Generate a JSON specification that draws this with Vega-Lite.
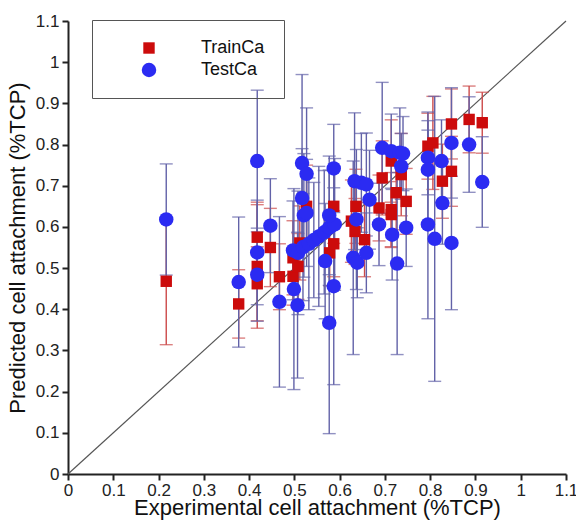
{
  "$schema": "https://vega.github.io/schema/vega-lite/v6.json",
  "width": 498,
  "height": 453,
  "autosize": "none",
  "padding": {"left": 68, "top": 21, "right": 10, "bottom": 47},
  "background": "white",
  "datasets": {
    "diag": [{"x": 0, "y": 0}, {"x": 1.1, "y": 1.1}],
    "pts": [
      {"s": "TrainCa", "x": 0.217, "y": 0.468, "lo": 0.314, "hi": 0.622},
      {"s": "TrainCa", "x": 0.377, "y": 0.413, "lo": 0.330, "hi": 0.496},
      {"s": "TrainCa", "x": 0.418, "y": 0.575, "lo": 0.490, "hi": 0.660},
      {"s": "TrainCa", "x": 0.418, "y": 0.504, "lo": 0.354, "hi": 0.654},
      {"s": "TrainCa", "x": 0.418, "y": 0.462, "lo": 0.372, "hi": 0.552},
      {"s": "TrainCa", "x": 0.447, "y": 0.550, "lo": 0.455, "hi": 0.645},
      {"s": "TrainCa", "x": 0.467, "y": 0.479, "lo": 0.399, "hi": 0.559},
      {"s": "TrainCa", "x": 0.497, "y": 0.480, "lo": 0.410, "hi": 0.550},
      {"s": "TrainCa", "x": 0.497, "y": 0.525, "lo": 0.435, "hi": 0.615},
      {"s": "TrainCa", "x": 0.508, "y": 0.504, "lo": 0.424, "hi": 0.584},
      {"s": "TrainCa", "x": 0.512, "y": 0.561, "lo": 0.471, "hi": 0.651},
      {"s": "TrainCa", "x": 0.527, "y": 0.650, "lo": 0.550, "hi": 0.750},
      {"s": "TrainCa", "x": 0.578, "y": 0.537, "lo": 0.457, "hi": 0.617},
      {"s": "TrainCa", "x": 0.587, "y": 0.650, "lo": 0.560, "hi": 0.740},
      {"s": "TrainCa", "x": 0.587, "y": 0.559, "lo": 0.479, "hi": 0.639},
      {"s": "TrainCa", "x": 0.626, "y": 0.614, "lo": 0.514, "hi": 0.714},
      {"s": "TrainCa", "x": 0.636, "y": 0.650, "lo": 0.560, "hi": 0.740},
      {"s": "TrainCa", "x": 0.634, "y": 0.589, "lo": 0.509, "hi": 0.669},
      {"s": "TrainCa", "x": 0.655, "y": 0.569, "lo": 0.479, "hi": 0.659},
      {"s": "TrainCa", "x": 0.687, "y": 0.646, "lo": 0.566, "hi": 0.726},
      {"s": "TrainCa", "x": 0.694, "y": 0.719, "lo": 0.629, "hi": 0.809},
      {"s": "TrainCa", "x": 0.714, "y": 0.760, "lo": 0.660, "hi": 0.860},
      {"s": "TrainCa", "x": 0.714, "y": 0.642, "lo": 0.552, "hi": 0.732},
      {"s": "TrainCa", "x": 0.714, "y": 0.630, "lo": 0.550, "hi": 0.710},
      {"s": "TrainCa", "x": 0.725, "y": 0.683, "lo": 0.593, "hi": 0.773},
      {"s": "TrainCa", "x": 0.736, "y": 0.727, "lo": 0.627, "hi": 0.827},
      {"s": "TrainCa", "x": 0.747, "y": 0.662, "lo": 0.582, "hi": 0.742},
      {"s": "TrainCa", "x": 0.795, "y": 0.796, "lo": 0.716, "hi": 0.876},
      {"s": "TrainCa", "x": 0.806, "y": 0.804, "lo": 0.691, "hi": 0.917},
      {"s": "TrainCa", "x": 0.827, "y": 0.711, "lo": 0.621, "hi": 0.801},
      {"s": "TrainCa", "x": 0.847, "y": 0.735, "lo": 0.650, "hi": 0.820},
      {"s": "TrainCa", "x": 0.847, "y": 0.850, "lo": 0.765, "hi": 0.935},
      {"s": "TrainCa", "x": 0.886, "y": 0.861, "lo": 0.780, "hi": 0.942},
      {"s": "TrainCa", "x": 0.915, "y": 0.853, "lo": 0.779, "hi": 0.927},
      {"s": "TestCa", "x": 0.217, "y": 0.618, "lo": 0.483, "hi": 0.753},
      {"s": "TestCa", "x": 0.377, "y": 0.466, "lo": 0.308, "hi": 0.624},
      {"s": "TestCa", "x": 0.418, "y": 0.760, "lo": 0.588, "hi": 0.932},
      {"s": "TestCa", "x": 0.418, "y": 0.538, "lo": 0.411, "hi": 0.665},
      {"s": "TestCa", "x": 0.418, "y": 0.484, "lo": 0.371, "hi": 0.597},
      {"s": "TestCa", "x": 0.447, "y": 0.603, "lo": 0.489, "hi": 0.717},
      {"s": "TestCa", "x": 0.467, "y": 0.418, "lo": 0.211, "hi": 0.625},
      {"s": "TestCa", "x": 0.497, "y": 0.543, "lo": 0.423, "hi": 0.663},
      {"s": "TestCa", "x": 0.499, "y": 0.449, "lo": 0.205, "hi": 0.693},
      {"s": "TestCa", "x": 0.507, "y": 0.410, "lo": 0.233, "hi": 0.587},
      {"s": "TestCa", "x": 0.517, "y": 0.755, "lo": 0.540, "hi": 0.970},
      {"s": "TestCa", "x": 0.527, "y": 0.729, "lo": 0.569, "hi": 0.889},
      {"s": "TestCa", "x": 0.517, "y": 0.670, "lo": 0.550, "hi": 0.790},
      {"s": "TestCa", "x": 0.521, "y": 0.628, "lo": 0.478, "hi": 0.778},
      {"s": "TestCa", "x": 0.527, "y": 0.634, "lo": 0.504, "hi": 0.764},
      {"s": "TestCa", "x": 0.508, "y": 0.537, "lo": 0.387, "hi": 0.687},
      {"s": "TestCa", "x": 0.519, "y": 0.551, "lo": 0.421, "hi": 0.681},
      {"s": "TestCa", "x": 0.532, "y": 0.559, "lo": 0.399, "hi": 0.719},
      {"s": "TestCa", "x": 0.543, "y": 0.568, "lo": 0.428, "hi": 0.708},
      {"s": "TestCa", "x": 0.554, "y": 0.577, "lo": 0.407, "hi": 0.747},
      {"s": "TestCa", "x": 0.566, "y": 0.587, "lo": 0.437, "hi": 0.737},
      {"s": "TestCa", "x": 0.577, "y": 0.598, "lo": 0.458, "hi": 0.738},
      {"s": "TestCa", "x": 0.589, "y": 0.606, "lo": 0.446, "hi": 0.766},
      {"s": "TestCa", "x": 0.568, "y": 0.517, "lo": 0.377, "hi": 0.657},
      {"s": "TestCa", "x": 0.577, "y": 0.628, "lo": 0.484, "hi": 0.772},
      {"s": "TestCa", "x": 0.577, "y": 0.367, "lo": 0.098, "hi": 0.636},
      {"s": "TestCa", "x": 0.587, "y": 0.742, "lo": 0.635, "hi": 0.849},
      {"s": "TestCa", "x": 0.587, "y": 0.456, "lo": 0.217, "hi": 0.695},
      {"s": "TestCa", "x": 0.633, "y": 0.711, "lo": 0.545, "hi": 0.877},
      {"s": "TestCa", "x": 0.648, "y": 0.707, "lo": 0.587, "hi": 0.827},
      {"s": "TestCa", "x": 0.659, "y": 0.703, "lo": 0.578, "hi": 0.828},
      {"s": "TestCa", "x": 0.666, "y": 0.666, "lo": 0.546, "hi": 0.786},
      {"s": "TestCa", "x": 0.637, "y": 0.618, "lo": 0.448, "hi": 0.788},
      {"s": "TestCa", "x": 0.630, "y": 0.525, "lo": 0.290, "hi": 0.760},
      {"s": "TestCa", "x": 0.639, "y": 0.513, "lo": 0.428, "hi": 0.598},
      {"s": "TestCa", "x": 0.659, "y": 0.537, "lo": 0.440, "hi": 0.634},
      {"s": "TestCa", "x": 0.694, "y": 0.792, "lo": 0.633, "hi": 0.951},
      {"s": "TestCa", "x": 0.714, "y": 0.784, "lo": 0.694, "hi": 0.874},
      {"s": "TestCa", "x": 0.733, "y": 0.780, "lo": 0.671, "hi": 0.889},
      {"s": "TestCa", "x": 0.740, "y": 0.778, "lo": 0.688, "hi": 0.868},
      {"s": "TestCa", "x": 0.736, "y": 0.747, "lo": 0.667, "hi": 0.827},
      {"s": "TestCa", "x": 0.687, "y": 0.606, "lo": 0.506, "hi": 0.706},
      {"s": "TestCa", "x": 0.716, "y": 0.581, "lo": 0.471, "hi": 0.691},
      {"s": "TestCa", "x": 0.747, "y": 0.598, "lo": 0.504, "hi": 0.692},
      {"s": "TestCa", "x": 0.727, "y": 0.511, "lo": 0.290, "hi": 0.732},
      {"s": "TestCa", "x": 0.795, "y": 0.768, "lo": 0.678, "hi": 0.858},
      {"s": "TestCa", "x": 0.795, "y": 0.739, "lo": 0.599, "hi": 0.879},
      {"s": "TestCa", "x": 0.825, "y": 0.760, "lo": 0.660, "hi": 0.860},
      {"s": "TestCa", "x": 0.827, "y": 0.658, "lo": 0.558, "hi": 0.758},
      {"s": "TestCa", "x": 0.795, "y": 0.606, "lo": 0.377, "hi": 0.835},
      {"s": "TestCa", "x": 0.810, "y": 0.571, "lo": 0.225, "hi": 0.917},
      {"s": "TestCa", "x": 0.847, "y": 0.561, "lo": 0.399, "hi": 0.723},
      {"s": "TestCa", "x": 0.847, "y": 0.804, "lo": 0.670, "hi": 0.938},
      {"s": "TestCa", "x": 0.886, "y": 0.800, "lo": 0.684, "hi": 0.916},
      {"s": "TestCa", "x": 0.915, "y": 0.709, "lo": 0.599, "hi": 0.819}
    ]
  },
  "resolve": {"axis": {"x": "independent", "y": "independent"}},
  "layer": [
    {
      "data": {"name": "diag"},
      "mark": {"type": "line", "color": "#555555", "strokeWidth": 1.2},
      "encoding": {
        "x": {
          "field": "x", "type": "quantitative",
          "scale": {"domain": [0, 1.1], "nice": false, "zero": false},
          "title": "Experimental cell attachment (%TCP)",
          "axis": {
            "orient": "bottom",
            "values": [0, 0.1, 0.2, 0.3, 0.4, 0.5, 0.6, 0.7, 0.8, 0.9, 1, 1.1],
            "format": "~g",
            "tickSize": 6, "tickWidth": 2,
            "labelPadding": 2, "labelOverlap": false, "labelFlush": false,
            "titlePadding": -1
          }
        },
        "y": {
          "field": "y", "type": "quantitative",
          "scale": {"domain": [0, 1.1], "nice": false, "zero": false},
          "title": "Predicted cell attachment (%TCP)",
          "axis": {
            "orient": "left",
            "values": [0, 0.1, 0.2, 0.3, 0.4, 0.5, 0.6, 0.7, 0.8, 0.9, 1, 1.1],
            "format": "~g",
            "tickSize": 6, "tickWidth": 2,
            "labelPadding": 3, "labelOverlap": false, "labelFlush": false,
            "titlePadding": 6
          }
        }
      }
    },
    {
      "data": {"name": "pts"},
      "transform": [{"filter": "datum.s === 'TrainCa'"}],
      "layer": [
        {
          "mark": {"type": "rule", "color": "#cc4a4a", "strokeWidth": 1.4},
          "encoding": {
            "x": {"field": "x", "type": "quantitative", "axis": null},
            "y": {"field": "lo", "type": "quantitative", "axis": null},
            "y2": {"field": "hi"}
          }
        },
        {
          "mark": {"type": "tick", "orient": "horizontal", "color": "#cc4a4a", "size": 13, "thickness": 1.4},
          "encoding": {
            "x": {"field": "x", "type": "quantitative", "axis": null},
            "y": {"field": "lo", "type": "quantitative", "axis": null}
          }
        },
        {
          "mark": {"type": "tick", "orient": "horizontal", "color": "#cc4a4a", "size": 13, "thickness": 1.4},
          "encoding": {
            "x": {"field": "x", "type": "quantitative", "axis": null},
            "y": {"field": "hi", "type": "quantitative", "axis": null}
          }
        }
      ]
    },
    {
      "data": {"name": "pts"},
      "transform": [{"filter": "datum.s === 'TestCa'"}],
      "layer": [
        {
          "mark": {"type": "rule", "color": "#6262a8", "strokeWidth": 1.4},
          "encoding": {
            "x": {"field": "x", "type": "quantitative", "axis": null},
            "y": {"field": "lo", "type": "quantitative", "axis": null},
            "y2": {"field": "hi"}
          }
        },
        {
          "mark": {"type": "tick", "orient": "horizontal", "color": "#6262a8", "size": 13, "thickness": 1.4},
          "encoding": {
            "x": {"field": "x", "type": "quantitative", "axis": null},
            "y": {"field": "lo", "type": "quantitative", "axis": null}
          }
        },
        {
          "mark": {"type": "tick", "orient": "horizontal", "color": "#6262a8", "size": 13, "thickness": 1.4},
          "encoding": {
            "x": {"field": "x", "type": "quantitative", "axis": null},
            "y": {"field": "hi", "type": "quantitative", "axis": null}
          }
        }
      ]
    },
    {
      "data": {"name": "pts"},
      "mark": {"type": "point", "filled": true, "opacity": 1},
      "encoding": {
        "x": {"field": "x", "type": "quantitative", "axis": null},
        "y": {"field": "y", "type": "quantitative", "axis": null},
        "color": {
          "field": "s", "type": "nominal",
          "scale": {"domain": ["TrainCa", "TestCa"], "range": ["#cc0b0b", "#2b2bf2"]},
          "legend": {
            "title": null, "orient": "none", "legendX": 24, "legendY": -1,
            "strokeColor": "#555555", "padding": 19,
            "symbolOffset": 29, "labelOffset": 43, "rowPadding": 4,
            "labelFont": "Liberation Sans", "labelFontSize": 18, "labelColor": "#111111"
          }
        },
        "shape": {
          "field": "s", "type": "nominal",
          "scale": {"domain": ["TrainCa", "TestCa"], "range": ["square", "circle"]}
        },
        "size": {
          "field": "s", "type": "nominal",
          "scale": {"domain": ["TrainCa", "TestCa"], "range": [130, 210]}
        }
      }
    }
  ],
  "config": {
    "view": {"stroke": null},
    "axis": {
      "grid": false,
      "domainColor": "#222222", "domainWidth": 2,
      "tickColor": "#222222",
      "labelFont": "Liberation Sans", "labelFontSize": 17, "labelColor": "#222222",
      "titleFont": "Liberation Sans", "titleFontSize": 22, "titleFontWeight": "normal", "titleColor": "#111111",
      "labelOverlap": false, "labelFlush": false, "labelBound": false
    }
  }
}
